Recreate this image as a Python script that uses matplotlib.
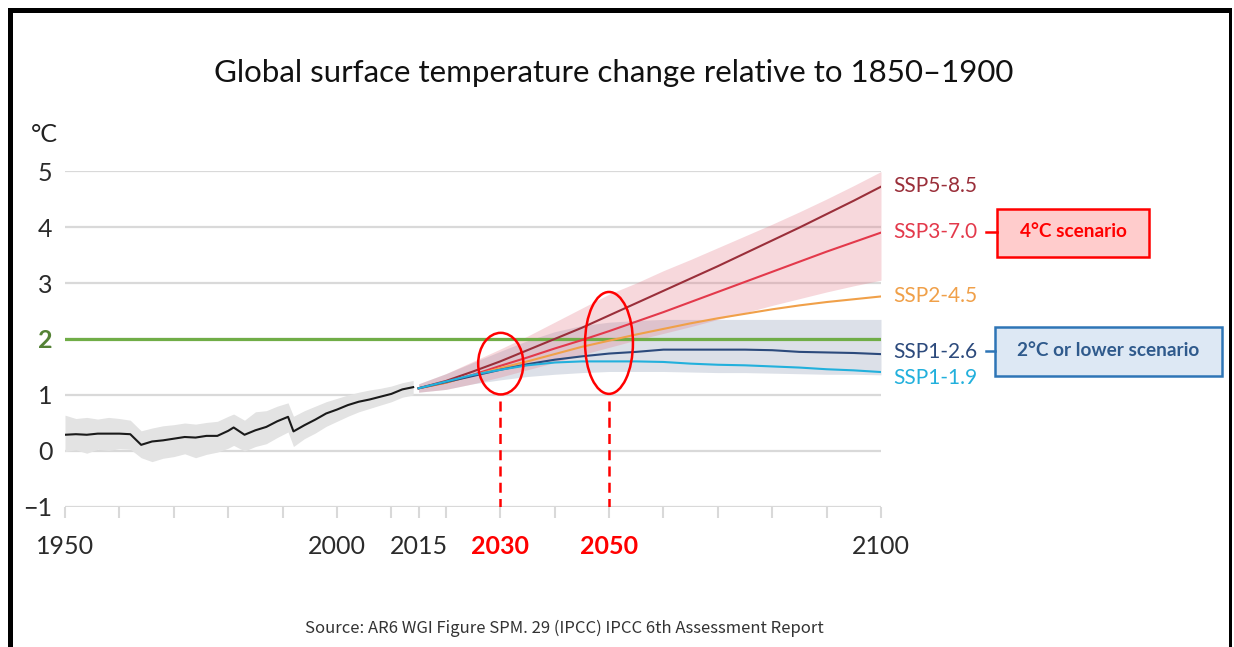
import matplotlib
matplotlib.use('Agg')
import matplotlib.pyplot as plt
from matplotlib.patches import Ellipse, Rectangle
from matplotlib.lines import Line2D

plt.rcParams['font.family'] = ['Lato', 'DejaVu Sans']

hist_years = [1950, 1952, 1954, 1956, 1958, 1960, 1962, 1964, 1966, 1968, 1970, 1972,
              1974, 1976, 1978, 1980, 1981, 1983, 1985, 1987, 1989, 1991, 1992, 1994,
              1996, 1998, 2000, 2002, 2004, 2006, 2008, 2010, 2012, 2014]
hist_mean = [0.29, 0.30, 0.29, 0.31, 0.31, 0.31, 0.30, 0.11, 0.17, 0.19, 0.22, 0.25,
             0.24, 0.27, 0.27, 0.36, 0.42, 0.29, 0.37, 0.43, 0.53, 0.61, 0.35, 0.46,
             0.56, 0.67, 0.74, 0.82, 0.88, 0.92, 0.97, 1.02, 1.10, 1.14]
hist_upper = [0.64, 0.58, 0.60, 0.57, 0.60, 0.58, 0.55, 0.36, 0.41, 0.45, 0.47, 0.50,
              0.48, 0.51, 0.53, 0.62, 0.66, 0.55, 0.70, 0.72, 0.80, 0.86, 0.62, 0.72,
              0.80, 0.88, 0.94, 1.00, 1.05, 1.09, 1.12, 1.16, 1.22, 1.26]
hist_lower = [-0.01, 0.02, -0.04, 0.03, 0.01, 0.04, 0.03, -0.12, -0.19, -0.13, -0.10, -0.05,
              -0.12, -0.06, -0.02, 0.05, 0.10, 0.00, 0.08, 0.13, 0.24, 0.34, 0.08, 0.22,
              0.32, 0.44, 0.53, 0.62, 0.70, 0.76, 0.82, 0.88, 0.96, 1.00]

# scenario projections
proj_years = [2015, 2020, 2025, 2030, 2035, 2040, 2045, 2050, 2055, 2060,
              2065, 2070, 2075, 2080, 2085, 2090, 2095, 2100]
ssp585 = [1.12, 1.25, 1.42, 1.60, 1.80, 2.00, 2.20, 2.42, 2.64, 2.86,
          3.08, 3.30, 3.53, 3.76, 3.99, 4.23, 4.47, 4.72]
ssp370 = [1.12, 1.22, 1.36, 1.52, 1.67, 1.83, 1.98, 2.14, 2.31, 2.48,
          2.66, 2.84, 3.02, 3.20, 3.38, 3.56, 3.73, 3.90]
ssp245 = [1.12, 1.22, 1.35, 1.48, 1.60, 1.73, 1.86, 1.97, 2.08, 2.18,
          2.28, 2.37, 2.45, 2.53, 2.60, 2.66, 2.71, 2.76]
ssp126 = [1.12, 1.23, 1.34, 1.45, 1.55, 1.63, 1.69, 1.74, 1.77, 1.81,
          1.81, 1.81, 1.81, 1.80, 1.77, 1.76, 1.75, 1.73]
ssp119 = [1.12, 1.24, 1.36, 1.45, 1.53, 1.58, 1.60, 1.60, 1.60, 1.59,
          1.56, 1.54, 1.53, 1.51, 1.49, 1.46, 1.44, 1.41]
ssp370_low = [1.05, 1.10, 1.20, 1.32, 1.45, 1.58, 1.72, 1.85, 1.98, 2.10,
              2.22, 2.35, 2.47, 2.60, 2.72, 2.84, 2.95, 3.05]
ssp370_high = [1.20, 1.38, 1.60, 1.82, 2.05, 2.30, 2.55, 2.80, 3.00, 3.22,
               3.42, 3.63, 3.84, 4.05, 4.27, 4.50, 4.74, 4.99]
ssp126_low = [1.05, 1.10, 1.20, 1.27, 1.33, 1.37, 1.40, 1.42, 1.42, 1.42,
              1.41, 1.40, 1.40, 1.39, 1.38, 1.37, 1.37, 1.36]
ssp126_high = [1.20, 1.38, 1.58, 1.78, 1.97, 2.13, 2.24, 2.30, 2.33, 2.35,
               2.35, 2.35, 2.35, 2.35, 2.35, 2.35, 2.35, 2.35]

scen_names = ['SSP5-8.5', 'SSP3-7.0', 'SSP2-4.5', 'SSP1-2.6', 'SSP1-1.9']
scen_data = [ssp585, ssp370, ssp245, ssp126, ssp119]
scen_colors = ['#9a2f3a', '#e3394b', '#f0a049', '#2c4a7c', '#22b0dc']
label_y = [4.73, 3.91, 2.77, 1.77, 1.30]

xticks = [1950, 1960, 1970, 1980, 1990, 2000, 2010, 2015, 2020, 2030, 2040,
          2050, 2060, 2070, 2080, 2090, 2100]
xlabels = ['1950', '', '', '', '', '2000', '', '2015', '', '2030', '', '2050',
           '', '', '', '', '2100']
yticks = [-1, 0, 1, 2, 3, 4, 5]

W, H = 1234, 647
fig = plt.figure(figsize=(W / 100, H / 100), dpi=100)
ax = fig.add_axes([65 / W, (H - 507) / H, 816 / W, 336 / H])
ax.set_xlim(1950, 2100)
ax.set_ylim(-1, 5)

for s in ax.spines.values():
    s.set_visible(False)
for v in yticks:
    ax.axhline(v, color='#d9d9d9', lw=1.6, zorder=0)

ax.fill_between(hist_years, hist_lower, hist_upper, color='#e3e3e3', lw=0, zorder=1)
ax.plot(hist_years, hist_mean, color='#1a1a1a', lw=1.5, zorder=3)

ax.fill_between(proj_years, ssp126_low, ssp126_high, color='#8393ad', alpha=0.28, lw=0, zorder=1)
ax.fill_between(proj_years, ssp370_low, ssp370_high, color='#e57f8c', alpha=0.3, lw=0, zorder=1)

ax.axhline(2, color='#70ad47', lw=2.3, zorder=2)

for name, vals, c, ly in zip(scen_names, scen_data, scen_colors, label_y):
    ax.plot(proj_years, vals, color=c, lw=1.5, zorder=4)
    ax.text(2102.2, ly, name, color=c, fontsize=15, va='center', ha='left', clip_on=False)

# ticks
ax.set_xticks(xticks)
ax.set_xticklabels(xlabels)
ax.tick_params(axis='x', length=8, width=1.5, color='#d9d9d9', pad=12,
               labelsize=18, labelcolor='#2b2b2b')
ax.set_yticks(yticks)
ax.set_yticklabels(['\u22121', '0', '1', '2', '3', '4', '5'])
ax.tick_params(axis='y', length=0, pad=9, labelsize=18, labelcolor='#2b2b2b')
for t in ax.get_yticklabels():
    if t.get_text() == '2':
        t.set_color('#548235')
        t.set_fontweight('bold')
for t in ax.get_xticklabels():
    if t.get_text() in ('2030', '2050'):
        t.set_color('#ff0000')
        t.set_fontweight('bold')

# highlight ellipses and dashed guide lines
ax.add_patch(Ellipse((2030.1, 1.56), 8.3, 1.1, fill=False, ec='#ff0000', lw=1.8, zorder=6, clip_on=False))
ax.add_patch(Ellipse((2050.0, 1.93), 8.8, 1.82, fill=False, ec='#ff0000', lw=1.8, zorder=6, clip_on=False))
for yr in (2030, 2050):
    ax.plot([yr, yr], [0.89, -1], color='#ff0000', lw=1.8, ls=(0, (4, 2.5)), zorder=6)

# title, unit, source
fig.text(614 / W, 1 - 73 / H, 'Global surface temperature change relative to 1850\u20131900',
         ha='center', va='center', fontsize=22.5, color='#111111')
fig.text(44 / W, 1 - 135 / H, '\u00b0C', ha='center', va='center', fontsize=18, color='#222222')
fig.text(564 / W, 1 - 628 / H, 'Source: AR6 WGI Figure SPM. 29 (IPCC) IPCC 6th Assessment Report',
         ha='center', va='center', fontsize=12, color='#333333',
         family=['Noto Sans CJK JP', 'DejaVu Sans'])

# scenario boxes
boxes = [(997, 209, 1149, 257, 232, '#ffcccc', '#ff0000', '#ff0000', '4\u00b0C scenario'),
         (995, 327, 1222, 376, 351, '#dde8f4', '#2e75b6', '#2f5a8c', '2\u00b0C or lower scenario')]
for x0, y0, x1, y1, ym, fc, ec, tc, txt in boxes:
    fig.add_artist(Rectangle((x0 / W, 1 - y1 / H), (x1 - x0) / W, (y1 - y0) / H,
                             transform=fig.transFigure, fc=fc, ec=ec, lw=1.8))
    fig.add_artist(Line2D([986 / W, x0 / W], [1 - ym / H, 1 - ym / H],
                          transform=fig.transFigure, color=ec, lw=1.8))
    fig.text((x0 + x1) / 2 / W, 1 - ym / H, txt, ha='center', va='center',
             fontsize=13.7, fontweight='bold', color=tc)

# black frame
fig.add_artist(Rectangle((8 / W, 1 - 13 / H), 1224 / W, 5 / H, transform=fig.transFigure, fc='black', lw=0))
fig.add_artist(Rectangle((8 / W, 0), 5 / W, 1 - 8 / H, transform=fig.transFigure, fc='black', lw=0))
fig.add_artist(Rectangle((1229 / W, 0), 3 / W, 1 - 8 / H, transform=fig.transFigure, fc='black', lw=0))

fig.savefig('out.png', dpi=100)
